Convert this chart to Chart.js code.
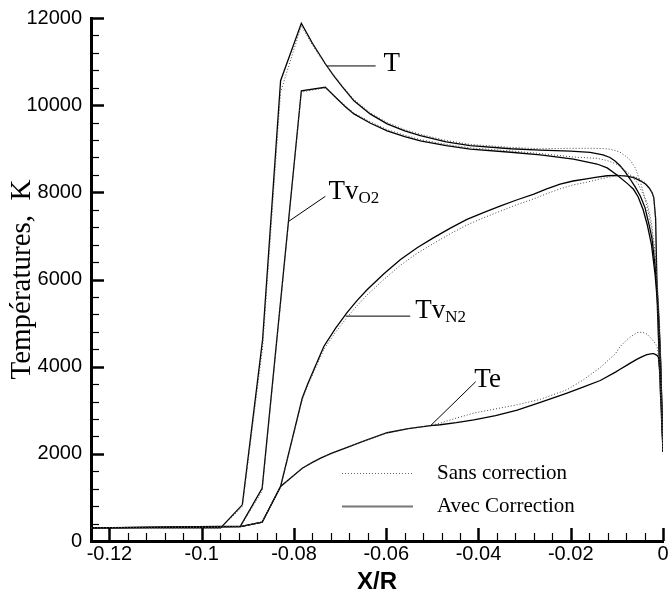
<!DOCTYPE html>
<html>
<head>
<meta charset="utf-8">
<script src="https://cdn.jsdelivr.net/npm/chart.js@4.4.1/dist/chart.umd.min.js"></script>
<style>
  html, body { margin: 0; padding: 0; background: #fff; }
</style>
</head>
<body>
<canvas id="chart" width="669" height="590"></canvas>
<script>
// --- axes ---
const xMin = -0.124, xMax = 0, xMinorStep = 0.004;
const yMin = 0, yMax = 12000, yMinorStep = 400;
const xTicks = [-0.12, -0.1, -0.08, -0.06, -0.04, -0.02, 0];
const xTickLabels = ['-0.12', '-0.1', '-0.08', '-0.06', '-0.04', '-0.02', '0'];
const yTicks = [0, 2000, 4000, 6000, 8000, 10000, 12000];
const yTickLabels = ['0', '2000', '4000', '6000', '8000', '10000', '12000'];

// --- T (translationnelle) ---
const tX    = [-0.124, -0.0959, -0.0912, -0.0868, -0.0829, -0.0784, -0.076, -0.0732, -0.0714, -0.0695, -0.067, -0.0635, -0.0598, -0.056, -0.0526, -0.047, -0.0418, -0.033, -0.0266, -0.02, -0.0158, -0.013, -0.0115, -0.0104, -0.0093, -0.0082, -0.0071, -0.006, -0.0049, -0.0039, -0.003, -0.0024, -0.0017, -0.0011, -0.0007, -0.0003, 0];
const tAvec = [300, 300, 830, 4620, 10560, 11880, 11420, 10950, 10680, 10420, 10100, 9800, 9570, 9410, 9300, 9160, 9070, 9000, 8970, 8945, 8915, 8860, 8800, 8720, 8610, 8470, 8300, 8120, 7910, 7650, 7250, 6950, 6300, 5500, 4600, 3300, 2050];
const tSans = [300, 300, 780, 4450, 10300, 11820, 11380, 10930, 10690, 10440, 10130, 9830, 9600, 9440, 9330, 9190, 9100, 9030, 9000, 9010, 9010, 9005, 8990, 8960, 8920, 8840, 8740, 8560, 8230, 7870, 7450, 7100, 6500, 5700, 4900, 3500, 2050];

// --- Tv O2 ---
const o2X    = [-0.124, -0.0916, -0.0869, -0.0784, -0.0732, -0.0706, -0.0688, -0.067, -0.0635, -0.0598, -0.056, -0.0526, -0.047, -0.0418, -0.033, -0.0266, -0.0194, -0.0143, -0.0121, -0.0099, -0.0077, -0.0064, -0.0054, -0.0043, -0.0034, -0.0025, -0.0017, -0.001, -0.0005, 0];
const o2Avec = [300, 340, 1210, 10330, 10410, 10140, 9960, 9800, 9590, 9410, 9280, 9180, 9070, 8990, 8920, 8860, 8760, 8650, 8560, 8390, 8200, 8070, 7900, 7600, 7250, 6800, 6100, 5200, 4100, 2050];
const o2Sans = [300, 330, 1150, 10300, 10400, 10150, 9980, 9820, 9620, 9440, 9310, 9210, 9100, 9020, 8950, 8890, 8810, 8780, 8730, 8640, 8460, 8330, 8200, 7950, 7750, 7300, 6600, 5500, 4200, 2050];

// --- Tv N2 ---
const n2X    = [-0.124, -0.0916, -0.0869, -0.0829, -0.0782, -0.077, -0.0757, -0.0746, -0.0735, -0.071, -0.0685, -0.0663, -0.0641, -0.0605, -0.0569, -0.0533, -0.0497, -0.0461, -0.0425, -0.0388, -0.0352, -0.0316, -0.028, -0.0252, -0.0223, -0.0195, -0.0166, -0.0143, -0.0121, -0.01, -0.0078, -0.0062, -0.005, -0.0038, -0.003, -0.0024, -0.002, -0.0016, -0.0012, -0.0006, 0];
const n2Avec = [300, 330, 430, 1250, 3280, 3610, 3930, 4200, 4470, 4880, 5240, 5520, 5770, 6130, 6460, 6730, 6960, 7180, 7380, 7540, 7690, 7830, 7960, 8080, 8190, 8260, 8310, 8350, 8380, 8390, 8370, 8330, 8270, 8190, 8100, 8000, 7880, 7400, 5300, 3500, 2050];
const n2Sans = [300, 330, 430, 1250, 3250, 3570, 3880, 4140, 4400, 4790, 5130, 5400, 5650, 6000, 6330, 6600, 6830, 7050, 7250, 7420, 7570, 7720, 7850, 7970, 8080, 8170, 8230, 8290, 8340, 8380, 8390, 8360, 8300, 8220, 8110, 8000, 7880, 7400, 5300, 3500, 2050];

// --- Te ---
const teX    = [-0.124, -0.0916, -0.0869, -0.0829, -0.0782, -0.076, -0.074, -0.0719, -0.0699, -0.0649, -0.0598, -0.0552, -0.0504, -0.0483, -0.0448, -0.041, -0.0363, -0.0316, -0.0266, -0.0208, -0.0172, -0.0136, -0.0103, -0.0093, -0.0078, -0.0071, -0.0056, -0.0045, -0.0035, -0.0023, -0.002, -0.0013, -0.001, -0.0005, 0];
const teAvec = [300, 330, 430, 1250, 1670, 1805, 1913, 2012, 2093, 2292, 2484, 2580, 2645, 2667, 2715, 2780, 2875, 3005, 3180, 3395, 3535, 3683, 3874, 3940, 4035, 4080, 4173, 4230, 4276, 4300, 4299, 4260, 4219, 3700, 2050];
const teSans = [300, 330, 430, 1250, 1670, 1805, 1913, 2012, 2093, 2292, 2484, 2580, 2648, 2706, 2820, 2936, 3030, 3127, 3250, 3472, 3702, 3980, 4300, 4460, 4620, 4680, 4782, 4790, 4750, 4620, 4580, 4475, 4245, 3400, 2050];

// --- étiquettes et traits de rappel ---
const leaderT    = [[-0.0728, 10900], [-0.0623, 10900]];
const leaderTvO2 = [[-0.0812, 7330], [-0.0732, 7908]];
const leaderTvN2 = [[-0.0688, 5160], [-0.0548, 5160]];
const leaderTe   = [[-0.0504, 2645], [-0.0406, 3655]];
const curveLabels = [
  { main: 'T',  sub: '',   x: -0.0606, y: 10785 },
  { main: 'Tv', sub: 'O2', x: -0.0725, y: 7840 },
  { main: 'Tv', sub: 'N2', x: -0.0537, y: 5127 },
  { main: 'Te', sub: '',   x: -0.0409, y: 3540 }
];
const legendLabels = ['Sans correction', 'Avec Correction'];

const SERIF = '"Liberation Serif", "Times New Roman", serif';
const SANS = '"Liberation Sans", Arial, sans-serif';

function pts(xs, ys) { return xs.map((x, i) => ({ x: x, y: ys[i] })); }
function pairPts(p) { return p.map(q => ({ x: q[0], y: q[1] })); }

const sansStyle = { borderColor: '#444', borderWidth: 1, borderDash: [1, 2] };
const avecStyle = { borderColor: '#000', borderWidth: 1.3 };
const leaderStyle = { borderColor: '#000', borderWidth: 1 };

const datasets = [
  { label: 'T sans', data: pts(tX, tSans), ...sansStyle },
  { label: 'TvO2 sans', data: pts(o2X, o2Sans), ...sansStyle },
  { label: 'TvN2 sans', data: pts(n2X, n2Sans), ...sansStyle },
  { label: 'Te sans', data: pts(teX, teSans), ...sansStyle },
  { label: 'T avec', data: pts(tX, tAvec), ...avecStyle },
  { label: 'TvO2 avec', data: pts(o2X, o2Avec), ...avecStyle },
  { label: 'TvN2 avec', data: pts(n2X, n2Avec), ...avecStyle },
  { label: 'Te avec', data: pts(teX, teAvec), ...avecStyle },
  { label: 'leader T', data: pairPts(leaderT), ...leaderStyle },
  { label: 'leader TvO2', data: pairPts(leaderTvO2), ...leaderStyle },
  { label: 'leader TvN2', data: pairPts(leaderTvN2), ...leaderStyle },
  { label: 'leader Te', data: pairPts(leaderTe), ...leaderStyle }
];

// graduations vers l'intérieur
const innerTicks = {
  id: 'innerTicks',
  afterDraw(chart) {
    const { ctx, chartArea: a, scales: { x, y } } = chart;
    ctx.save();
    ctx.strokeStyle = '#000';
    const nY = Math.round((yMax - yMin) / yMinorStep);
    for (let i = 0; i <= nY; i++) {
      const v = yMin + i * yMinorStep;
      const major = i % 5 === 0;
      const py = Math.round(y.getPixelForValue(v)) + 0.5;
      ctx.lineWidth = major ? 2.5 : 1.2;
      ctx.beginPath();
      ctx.moveTo(a.left, py);
      ctx.lineTo(a.left + (major ? 13 : 8), py);
      ctx.stroke();
    }
    const nX = Math.round((xMax - xMin) / xMinorStep);
    for (let i = 1; i <= nX; i++) {
      const v = xMin + i * xMinorStep;
      const r = v / 0.02;
      const major = Math.abs(r - Math.round(r)) < 1e-6;
      const px = Math.round(x.getPixelForValue(v)) + 0.5;
      ctx.lineWidth = major ? 2.5 : 1.2;
      ctx.beginPath();
      ctx.moveTo(px, a.bottom);
      ctx.lineTo(px, a.bottom - (major ? 13 : 8));
      ctx.stroke();
    }
    ctx.restore();
  }
};

// noms des courbes (avec indice)
const curveNames = {
  id: 'curveNames',
  afterDraw(chart) {
    const { ctx, scales: { x, y } } = chart;
    ctx.save();
    ctx.fillStyle = '#000';
    ctx.textBaseline = 'alphabetic';
    ctx.textAlign = 'left';
    curveLabels.forEach(l => {
      const px = x.getPixelForValue(l.x);
      const py = y.getPixelForValue(l.y);
      ctx.font = '27px ' + SERIF;
      ctx.fillText(l.main, px, py);
      if (l.sub) {
        const w = ctx.measureText(l.main).width;
        ctx.font = '17px ' + SERIF;
        ctx.fillText(l.sub, px + w, py + 4);
      }
    });
    ctx.restore();
  }
};

// légende dans le graphique
const innerLegend = {
  id: 'innerLegend',
  afterDraw(chart) {
    const { ctx } = chart;
    const rows = [
      { y: 473, dash: [1, 2], width: 1.2, color: '#666' },
      { y: 506, dash: [], width: 2, color: '#777' }
    ];
    ctx.save();
    rows.forEach((r, i) => {
      ctx.strokeStyle = r.color;
      ctx.lineWidth = r.width;
      ctx.setLineDash(r.dash);
      ctx.beginPath();
      ctx.moveTo(342, r.y + 0.5);
      ctx.lineTo(413, r.y + 0.5);
      ctx.stroke();
      ctx.setLineDash([]);
      ctx.fillStyle = '#000';
      ctx.font = '21px ' + SERIF;
      ctx.textBaseline = 'middle';
      ctx.textAlign = 'left';
      ctx.fillText(legendLabels[i], 437, r.y);
    });
    ctx.restore();
  }
};

new Chart(document.getElementById('chart'), {
  type: 'line',
  data: { datasets: datasets },
  plugins: [innerTicks, curveNames, innerLegend],
  options: {
    responsive: false,
    devicePixelRatio: 1,
    animation: false,
    events: [],
    layout: { padding: { left: 0, right: 6, top: 18, bottom: 0 } },
    elements: { point: { radius: 0 }, line: { tension: 0, fill: false } },
    plugins: { legend: { display: false }, tooltip: { enabled: false } },
    scales: {
      x: {
        type: 'linear',
        min: xMin, max: xMax,
        afterBuildTicks: s => { s.ticks = xTicks.map(v => ({ value: v })); },
        afterFit: s => { s.height = 49; s.paddingLeft = 0; s.paddingRight = 0; },
        grid: { display: false, drawTicks: false },
        border: { display: true, color: '#000', width: 3 },
        ticks: {
          autoSkip: false, maxRotation: 0, padding: 1,
          color: '#000', font: { family: SANS, size: 20 },
          callback: (v, i) => xTickLabels[i]
        },
        title: {
          display: true, text: 'X/R', color: '#000',
          font: { family: SANS, size: 24, weight: 'bold' },
          padding: { top: 0, bottom: -7 }
        }
      },
      y: {
        type: 'linear',
        min: yMin, max: yMax,
        afterBuildTicks: s => { s.ticks = yTicks.map(v => ({ value: v })); },
        afterFit: s => { s.width = 91; s.paddingTop = 0; s.paddingBottom = 0; },
        grid: { display: false, drawTicks: false },
        border: { display: true, color: '#000', width: 3 },
        ticks: {
          autoSkip: false, padding: 9,
          color: '#000', font: { family: SANS, size: 20 },
          callback: (v, i) => yTickLabels[i]
        },
        title: {
          display: true, text: 'Températures,  K', color: '#000',
          font: { family: SERIF, size: 29 },
          padding: { top: 5, bottom: 0 }
        }
      }
    }
  }
});
</script>
</body>
</html>
